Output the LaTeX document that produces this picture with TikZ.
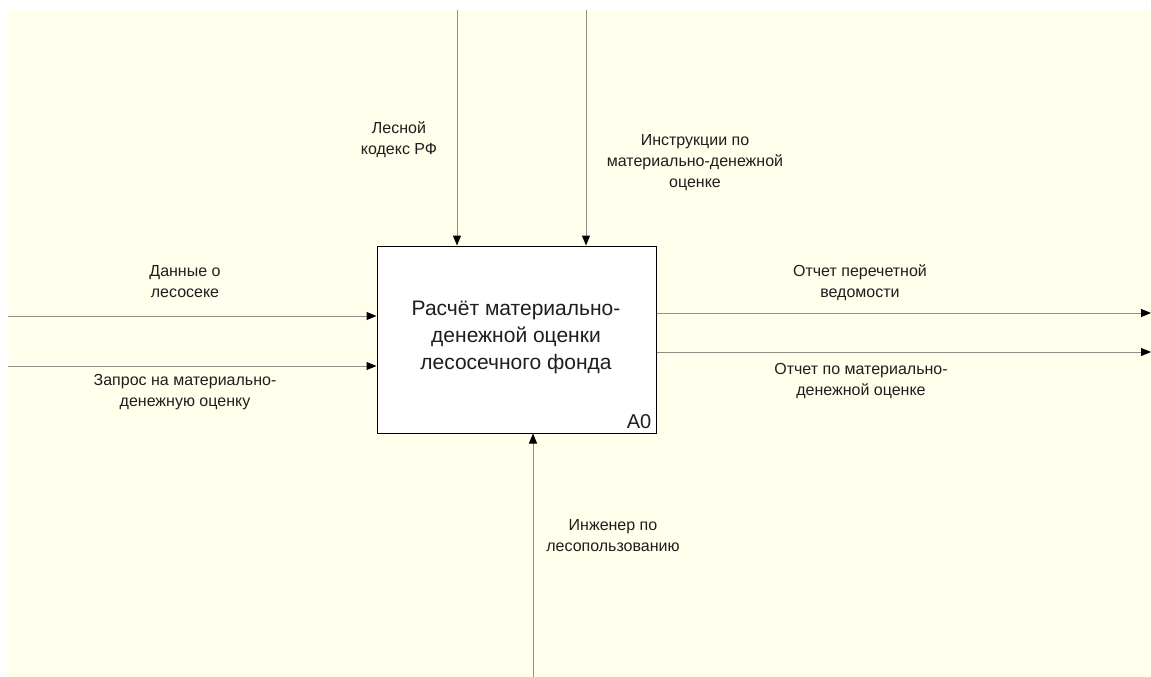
\documentclass[tikz,border=0pt]{standalone}
\usepackage{fontspec}
\setmainfont{Liberation Sans}
\usetikzlibrary{arrows.meta}
\definecolor{paper}{HTML}{FFFFEB}
\definecolor{wire}{HTML}{8E8E86}
\definecolor{ink}{HTML}{1E1E1E}
\tikzset{
  wirearrow/.style={draw=wire, line width=1pt,
    -{Triangle[length=10pt,width=8pt,color=black]}},
  label/.style={align=center, text=ink, inner sep=0pt,
    font=\fontsize{16}{21}\selectfont},
  funcbox/.style={draw=black, line width=1pt, fill=white,
    minimum width=279pt, minimum height=187pt, inner sep=0pt},
}
\begin{document}
\begin{tikzpicture}[x=1pt,y=-1pt]
  % page and drawing area
  \useasboundingbox (0,0) rectangle (1151,677);
  \fill[paper] (8,10) rectangle (1151,677);

  % activity box
  \node[funcbox] (a0) at (516.5,339.5) {};
  \node[align=center, text=ink, inner sep=0pt,
        font=\fontsize{21}{27}\selectfont] (title) at (516,337)
    {Расчёт материально-\\денежной оценки\\лесосечного фонда};
  \node[anchor=south east, text=ink, inner sep=0pt,
        font=\fontsize{20}{24}\selectfont] (num) at ([xshift=-5pt,yshift=5pt]a0.south east) {A0};

  % free ends of the arrows
  \coordinate (ctlA) at (457,10);
  \coordinate (ctlB) at (586,10);
  \coordinate (inA) at (8,316);
  \coordinate (inB) at (8,366);
  \coordinate (outA) at (1151,313);
  \coordinate (outB) at (1151,352);
  \coordinate (mech) at (533,677);

  % controls
  \draw[wirearrow] (ctlA) -- (ctlA |- a0.north);
  \draw[wirearrow] (ctlB) -- (ctlB |- a0.north);
  % inputs
  \draw[wirearrow] (inA) -- (inA -| a0.west);
  \draw[wirearrow] (inB) -- (inB -| a0.west);
  % outputs
  \draw[wirearrow] (outA -| a0.east) -- (outA);
  \draw[wirearrow] (outB -| a0.east) -- (outB);
  % mechanism
  \draw[wirearrow] (mech) -- (mech |- a0.south);

  % arrow labels
  \node[label] (l1) at (399,140) {Лесной\\кодекс РФ};
  \node[label] (l2) at (695,163) {Инструкции по\\материально-денежной\\оценке};
  \node[label] (l3) at (185,282) {Данные о\\лесосеке};
  \node[label] (l4) at (185,392) {Запрос на материально-\\денежную оценку};
  \node[label] (l5) at (860,283) {Отчет перечетной\\ведомости};
  \node[label] (l6) at (861,381) {Отчет по материально-\\денежной оценке};
  \node[label] (l7) at (613,536) {Инженер по\\лесопользованию};
\end{tikzpicture}
\end{document}
